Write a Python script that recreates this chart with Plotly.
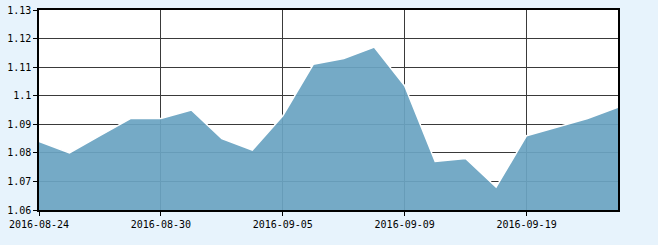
import plotly.graph_objects as go

dates = ["2016-08-24", "2016-08-25", "2016-08-26", "2016-08-29", "2016-08-30",
         "2016-08-31", "2016-09-01", "2016-09-02", "2016-09-05", "2016-09-06",
         "2016-09-07", "2016-09-08", "2016-09-09", "2016-09-12", "2016-09-13",
         "2016-09-14", "2016-09-19", "2016-09-20", "2016-09-21", "2016-09-22"]
values = [1.084, 1.080, 1.086, 1.092, 1.092,
          1.095, 1.085, 1.081, 1.093, 1.111,
          1.113, 1.117, 1.1035, 1.077, 1.078,
          1.068, 1.086, 1.089, 1.092, 1.096]
x_ticks = ["2016-08-24", "2016-08-30", "2016-09-05", "2016-09-09", "2016-09-19"]
y_ticks = [1.06, 1.07, 1.08, 1.09, 1.10, 1.11, 1.12, 1.13]
y_labels = ["1.06", "1.07", "1.08", "1.09", "1.1", "1.11", "1.12", "1.13"]

fig = go.Figure()
fig.add_trace(go.Scatter(
    x=dates, y=values, mode="lines",
    line=dict(color="white", width=1.5),
    fill="tozeroy", fillcolor="rgba(107,164,194,0.93)",
    hoverinfo="skip",
))

font = dict(family="DejaVu Sans Mono", size=10, color="#000000")
fig.update_layout(
    width=658, height=245,
    margin=dict(l=39, r=40, t=10, b=35, autoexpand=False),
    paper_bgcolor="#e7f3fc",
    plot_bgcolor="#ffffff",
    showlegend=False,
    font=font,
    xaxis=dict(
        type="category", range=[0, len(dates) - 1], automargin=False,
        tickmode="array", tickvals=x_ticks, ticktext=x_ticks,
        showgrid=True, gridcolor="#3a3a3a", gridwidth=1,
        showline=True, linecolor="#000000", linewidth=1.5, mirror=True,
        ticks="outside", ticklen=4, tickcolor="#000000",
        tickfont=font, zeroline=False,
    ),
    yaxis=dict(
        range=[1.06, 1.13], automargin=False,
        tickmode="array", tickvals=y_ticks, ticktext=y_labels,
        showgrid=True, gridcolor="#3a3a3a", gridwidth=1,
        showline=True, linecolor="#000000", linewidth=1.5, mirror=True,
        ticks="outside", ticklen=4, tickcolor="#000000",
        tickfont=font, zeroline=False,
    ),
)
fig.write_html("out.html")
